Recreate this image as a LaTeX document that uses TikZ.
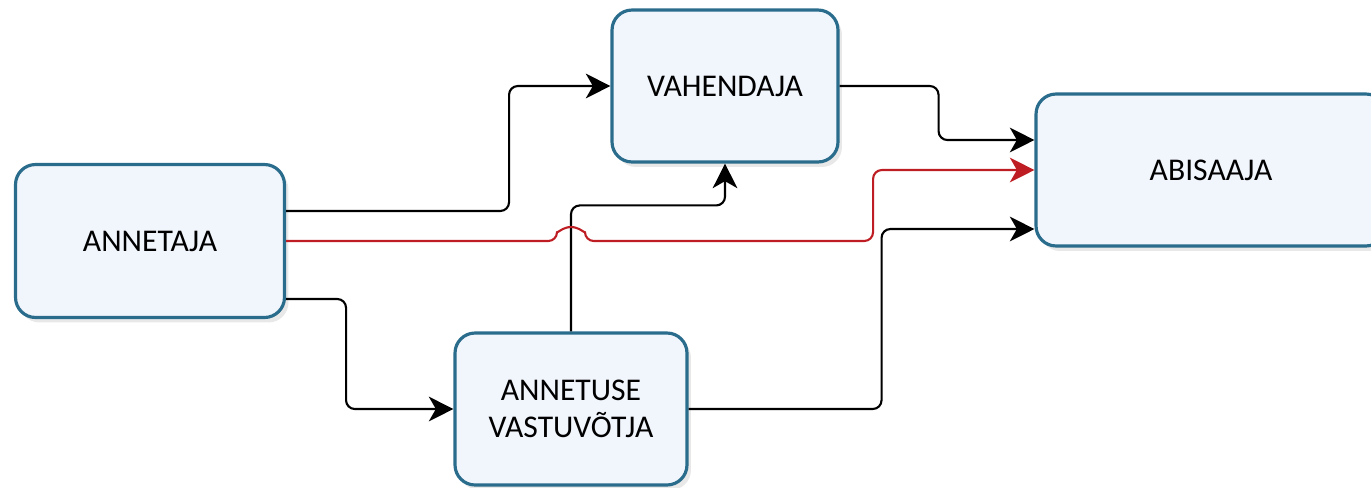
\documentclass[tikz,border=0pt]{standalone}
\usepackage{fontspec}
\setmainfont{Carlito}
\usetikzlibrary{arrows.meta,calc,shadows}
\definecolor{boxblue}{RGB}{42,108,140}
\definecolor{boxfill}{RGB}{241,245,252}
\definecolor{flowred}{RGB}{190,30,35}
\tikzset{
  party/.style={draw=boxblue, line width=1.8pt, fill=boxfill, rounded corners=0.4cm,
    align=center, font=\fontsize{18}{21}\selectfont,
    drop shadow={opacity=0.18, shadow xshift=0.08cm, shadow yshift=-0.1cm}},
  flow/.style={line width=1.2pt, rounded corners=5pt, -{Stealth[length=14pt,width=14pt,inset=4pt]}},
}
\begin{document}
\begin{tikzpicture}[x=0.02cm,y=-0.02cm]
    \useasboundingbox (0,0) rectangle (1371,487);

    % The four parties
    \node[party, minimum width=5.38cm, minimum height=3.06cm] (annetaja) at (150,241) {ANNETAJA};
    \node[party, minimum width=4.52cm, minimum height=3.04cm] (vahendaja) at (725,86) {VAHENDAJA};
    \node[party, minimum width=7.00cm, minimum height=3.04cm] (abisaaja) at (1211,170) {ABISAAJA};
    \node[party, minimum width=4.64cm, minimum height=3.04cm] (vastuvotja) at (571,409) {ANNETUSE\\VASTUVÕTJA};

    % Flows between them
    \draw[flow] ($(annetaja.east)+(0,-30)$) -- ++(223,0) |- (vahendaja.west);
    \draw[flow] ($(annetaja.east)+(0,58)$) -- ++(60,0) |- (vastuvotja.west);
    \draw[flow] (vastuvotja.north) -- ++(0,-126) -| (vahendaja.south);
    \draw[flow] (vahendaja.east) -- ++(99,0) |- ($(abisaaja.west)+(0,-30)$);
    \draw[flow] (vastuvotja.east) -- ++(193,0) |- ($(abisaaja.west)+(0,59)$);

    % Direct flow, hopping over the vertical line
    \draw[flow, flowred] (annetaja.east) -- ($(vastuvotja.north |- annetaja.east)+(-14,0)$)
        arc[start angle=180, end angle=0, radius=0.28cm]
        -- ($(annetaja.east)+(587,0)$) |- (abisaaja.west);
\end{tikzpicture}
\end{document}
